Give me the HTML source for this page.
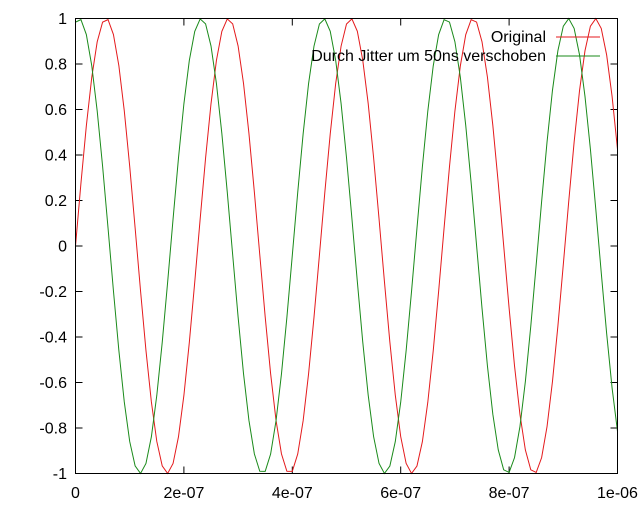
<!DOCTYPE html>
<html><head><meta charset="utf-8"><style>
html,body{margin:0;padding:0;background:#fff;}
svg{display:block;font-family:"Liberation Sans",sans-serif;font-size:16px;}
</style></head><body>
<svg id="s" width="640" height="512" xmlns="http://www.w3.org/2000/svg">
<rect x="0" y="0" width="640" height="512" fill="#fff"/>
<g id="ticks" stroke="#000" stroke-width="1"></g>
<g id="labels" fill="#000"></g>
<polyline id="red" fill="none" stroke="#e41a1c" stroke-width="1" points=""/>
<polyline id="green" fill="none" stroke="#1a8a1a" stroke-width="1" points=""/>
<rect x="75.5" y="18.5" width="542" height="455" fill="none" stroke="#000" stroke-width="1"/>
<text x="546" y="42" text-anchor="end">Original</text>
<line x1="556" y1="37" x2="600" y2="37" stroke="#e41a1c"/>
<text x="546" y="61" text-anchor="end">Durch Jitter um 50ns verschoben</text>
<line x1="556" y1="56" x2="600" y2="56" stroke="#1a8a1a"/>
</svg>
<script>
var L=75.5,R=617.5,T=18.5,B=473.5,NS="http://www.w3.org/2000/svg";
function X(t){return L+(R-L)*t/1e-6;}
function Y(v){return T+(B-T)*(1-v)/2;}
var tk=document.getElementById('ticks'),lb=document.getElementById('labels');
function ln(a,b,c,d){var e=document.createElementNS(NS,'line');e.setAttribute('x1',a);e.setAttribute('y1',b);e.setAttribute('x2',c);e.setAttribute('y2',d);tk.appendChild(e);}
function tx(x,y,s,a){var e=document.createElementNS(NS,'text');e.setAttribute('x',x);e.setAttribute('y',y);e.setAttribute('text-anchor',a);e.textContent=s;lb.appendChild(e);}
var yl=['-1','-0.8','-0.6','-0.4','-0.2','0','0.2','0.4','0.6','0.8','1'];
for(var i=0;i<11;i++){var v=-1+i*0.2,y=Y(v);ln(L,y,L+7,y);ln(R,y,R-7,y);tx(67,y+5.5,yl[i],'end');}
var xl=['0','2e-07','4e-07','6e-07','8e-07','1e-06'];
for(var i=0;i<6;i++){var x=X(i*2e-7);ln(x,B,x,B-7);ln(x,T,x,T+7);tx(x,498,xl[i],'middle');}
var f=4.43e6,n=100,pr=[],pg=[];
for(var i=0;i<=n;i++){var t=i*1e-6/n;pr.push(X(t).toFixed(2)+','+Y(Math.sin(2*Math.PI*f*t)).toFixed(2));pg.push(X(t).toFixed(2)+','+Y(Math.sin(2*Math.PI*f*(t+50e-9))).toFixed(2));}
document.getElementById('red').setAttribute('points',pr.join(' '));
document.getElementById('green').setAttribute('points',pg.join(' '));
</script>
</body></html>
